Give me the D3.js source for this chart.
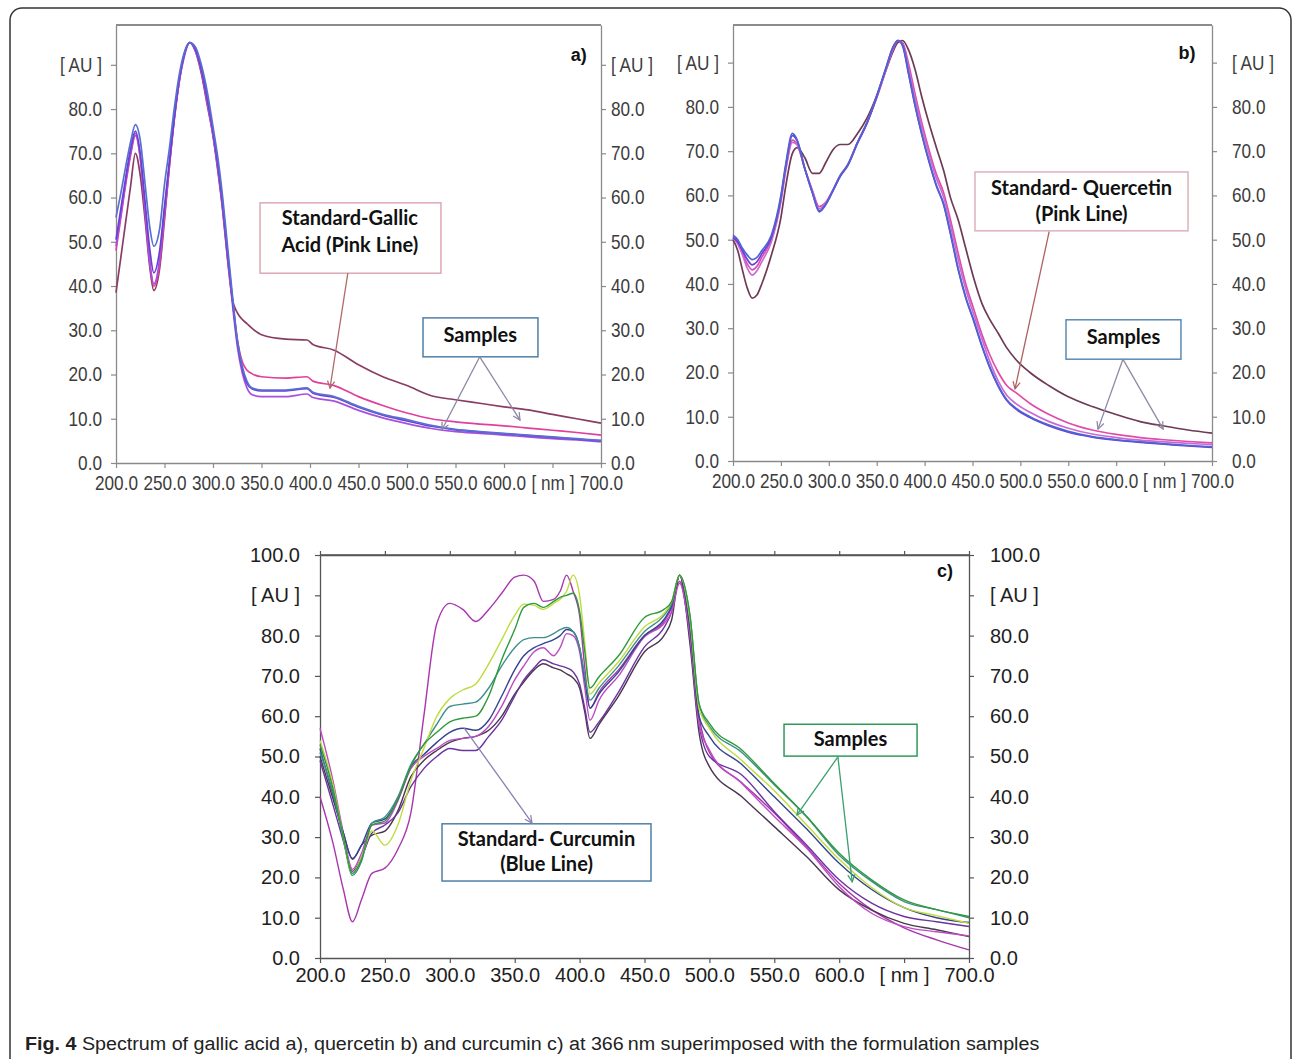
<!DOCTYPE html>
<html>
<head>
<meta charset="utf-8">
<script src="https://cdn.jsdelivr.net/npm/d3@7"></script>
<style>
  body { margin: 0; background: #fff; }
  svg { display: block; }
</style>
</head>
<body>
<svg id="fig" width="1293" height="1059"></svg>
<script>
// shared axis ticks
const xTicks = [200, 250, 300, 350, 400, 450, 500, 550, 600, 650, 700];
const xLabels = ['200.0', '250.0', '300.0', '350.0', '400.0', '450.0', '500.0', '550.0', '600.0', '[ nm ]', '700.0'];
const yTicksAB = [0, 10, 20, 30, 40, 50, 60, 70, 80, 90];
const yLabelsAB = ['0.0', '10.0', '20.0', '30.0', '40.0', '50.0', '60.0', '70.0', '80.0', '[ AU ]'];
const yTicksC = [0, 10, 20, 30, 40, 50, 60, 70, 80, 90, 100];
const yLabelsC = ['0.0', '10.0', '20.0', '30.0', '40.0', '50.0', '60.0', '70.0', '80.0', '[ AU ]', '100.0'];

// a) gallic acid
const nmA = [200,205,210,215,220,225,230,235,239,245,250,255,260,265,270,276,282,288,294,300,305,310,315,320,325,330,335,340,350,375,397,403,425,450,475,500,525,550,575,600,625,650,675,700];
const gallicMaroon = [38.5,46.5,54.5,62.5,70,65,55,44,39,44,55,67,78,86,92,95,93,88,81,74,66,57,46,37,34,32.5,31.5,30.5,29,28,27.8,26.8,25.5,22.2,19.5,17.5,15.2,14.3,13.5,12.7,12,11,10,9];
const gallicPink = [48,55.5,63,69.5,74,69,57,45,40,45,56,67,77.5,86,92,95,93.5,89,82,74.5,67,58,47,37,28,23,21,20.2,19.5,19.2,19.5,18.5,17.5,15,13,11.3,10,9.3,8.8,8.4,7.9,7.4,6.9,6.3];
const gallicViolet = [49,56,63.5,70,74.5,69,57,45,40.5,46,57,67.5,77.5,86,91.5,95,93,88.5,81.5,74,66.5,57.5,46.5,36,26.5,20.5,17,15.5,15,15,15.6,14.8,14,11.9,10.2,8.9,7.8,7.1,6.7,6.3,5.9,5.5,5.2,4.8];
const gallicPurple = [50.5,57.5,64.5,71,75,70,59,48,43,48,58,68,78,86.5,92,95,93.5,89,82.5,75,67.5,58.5,47.5,37,27.5,21.5,18,16.8,16.3,16.3,16.8,15.8,14.8,12.6,10.8,9.5,8.3,7.5,7,6.6,6.2,5.8,5.4,5];
const gallicBlue = [55.5,61,67,72.5,76.5,73,63,53,49,53,63,71,80,87.5,92.5,95,94,90,84,76,69,60,49,38,28,22,18.5,17,16.5,16.5,17,16,15,12.8,11,9.8,8.5,7.6,7.1,6.7,6.3,5.9,5.5,5.1];

// b) quercetin
const nmB = [200,205,210,215,220,225,230,240,250,255,262,267,275,283,290,297,305,312,320,330,340,350,360,367,372,377,383,390,397,405,412,420,427,435,443,451,460,468,477,486,495,510,530,550,575,600,625,650,675,700];
const quercMaroon = [50,47.5,43,39,36.8,37.5,40,46.5,55,62,69.5,70.8,68.5,65,65,67.5,70.5,71.5,71.5,74,77.5,82.5,88.5,92.5,94.5,95,93,88.5,82.3,76,71,65.5,59.5,54.5,48,41.5,35.5,32,28.8,25.5,23,20,17,14.5,12.3,10.5,8.9,7.9,7,6.3];
const quercPink = [50.5,49.5,47,44.5,43.2,44,46,50,59,66,72.5,71.5,66,61,57.5,58.5,61.5,64.5,67,72,76.5,82,88.5,93,95,94.5,90,83,76.5,70,65,60.5,54.5,47,40,34.5,28.5,24,20,17,15.5,13,10.5,8.6,7,6,5.3,4.8,4.4,4.1];
const quercLilac = [50.5,49,46.5,43.5,42,43,45,49.5,58.5,65.5,72,71.5,66,61,57,58.3,61.5,64.5,67,72,76.5,82.2,88.7,93.2,95,94.2,89,82,75.5,69,64,59.5,53.3,45.5,38.8,33.3,27.5,22.5,18,14.8,13,11,8.9,7.4,6.1,5.3,4.7,4.3,4,3.7];
const quercPurple = [50.5,49.5,47.5,45.5,44.3,45,46.8,50.5,59.5,66.5,73.5,72.3,66,60.5,56.5,58,61.3,64.3,66.8,71.8,76.3,82.3,89,93.5,95,93.8,87.7,80.3,73.8,67.3,62.3,57.8,51.3,43.3,36.8,31.8,25.8,21.1,16.8,13.6,11.8,9.8,7.9,6.5,5.4,4.7,4.2,3.8,3.4,3.1];
const quercBlue = [51,50,48,46.5,45.5,46,47.5,51,60,67,74,72.5,66,60.5,56.3,58,61.5,64.5,67,72,76.5,82.5,89,93.5,95,94,88,80.5,74,67.5,62.5,58,51.5,43.5,37,32,26,21.3,17,13.8,12,10,8.1,6.7,5.5,4.8,4.3,3.9,3.5,3.2];

// c) curcumin
const nmC = [200,210,218,225,232,240,250,260,270,280,290,300,310,320,330,340,350,357,365,372,380,385,390,395,400,404,408,415,430,450,465,471,477,485,492,500,525,550,575,600,625,650,675,700];
const curcMagenta = [40,28.5,17,9,14.5,21,22.3,27,36,60,83,88,86.5,83.5,86.5,90.5,94.5,95,93.5,88.5,89,91,95,91,85,72,62,66,71.5,80,83.5,87,93.5,80,60,51,43.5,36,27.5,18.5,12,7.5,4.5,2];
const curcDark = [50,39.5,31,24.5,28,30.5,31.5,36.5,45,49,51.5,53.5,54.5,55,56.5,60,65.5,68.5,71.5,73,72,71.5,70.5,69.5,67,61,54.5,58,65,76,80,84,95,78,56,47.5,40,32.6,25.1,16.9,11.9,8.6,7,5.3];
const curcPurple = [49,38,29,21.5,25,31,33,36,42.5,47,50,52,51.5,51.5,55,59,65,69,72,74,73,72.5,72,71,68,62,56,58.6,66,77.2,82,86,95,80,58,50,45.4,36.3,28,19.4,13.6,10.3,9,7.8];
const curcPink = [57,44,31,22,26,33,33.5,39,47,50,52,54,54.5,55,57.5,62.5,69,72.5,76,77,75,77,80.5,80,76,67,59,64,70,79.7,83,86,93,80,58,51.6,43.3,35.1,27.2,17.7,11.1,7.8,6.5,5.5];
const curcBlue = [52,40.5,31,24.7,28,33.5,34.5,39.5,47.5,50.5,53.5,56,57,56.5,59,65,71.5,75,77,78,79,80,81.5,81,77,69,62,65.5,71,80,84,87.5,95,82,60,55,48,40,32,23.5,17,12.5,10,8.8];
const curcTeal = [51,41,29.5,20.5,24,33.5,35,40,48,53,58,62.4,63,63.5,67,72.5,77,79,79.5,79.5,80.5,81.5,82,81,77,70,64,67,72.5,81,85,88,95,85,63,57.5,51,43,35,25.5,19,14,12,10];
const curcLime = [54,43,30,21,25,31.5,28,33,44,52,60,64.4,66.5,68,73,79,85,87.8,87.5,86.5,88,89,91,95,90,78,65.5,68.2,73.5,82.2,85.5,88.5,95,84,62,57,49,41.5,33,24.5,17.5,12.5,10.5,8.6];
const curcGreen = [53,42,30,21,24.5,33,34,39.5,47.5,53,56,58.6,59.5,60,65,74,81.5,87,88,87,88.5,89.5,90,90.5,86,76,67,69.8,75,84.5,86.5,88.5,95,85,63.2,58.2,51.6,43.3,35.1,26,19.4,14.4,12,10.3];

const svg = d3.select('#fig');
const defs = svg.append('defs');
const markers = {};
function arrowMarker(color) {
  if (markers[color]) return markers[color];
  const id = 'arr' + Object.keys(markers).length;
  defs.append('marker').attr('id', id).attr('viewBox', '0 0 10 10').attr('refX', 9).attr('refY', 5)
    .attr('markerWidth', 9).attr('markerHeight', 9).attr('markerUnits', 'userSpaceOnUse').attr('orient', 'auto')
    .append('path').attr('d', 'M1,1 L9,5 L1,9').attr('fill', 'none').attr('stroke', color).attr('stroke-width', 1.4);
  markers[color] = `url(#${id})`;
  return markers[color];
}

// outer figure frame
svg.append('rect').attr('x', 10).attr('y', 8).attr('width', 1281).attr('height', 1120).attr('rx', 12)
  .attr('fill', 'none').attr('stroke', '#333').attr('stroke-width', 1.5);

const sans = 'Liberation Sans, Arial, sans-serif';

function drawPanel(p) {
  const x = d3.scaleLinear().domain([200, 700]).range([p.left, p.right]);
  const y = d3.scaleLinear().domain([0, p.yMax]).range([p.bottom, p.top]);
  const g = svg.append('g');

  // squeeze the labels horizontally to mimic the narrow face of the original
  const styleAxis = sel => {
    sel.select('.domain').attr('stroke', p.axisColor).attr('stroke-width', 1.3);
    sel.selectAll('.tick line').attr('stroke', p.axisColor).attr('stroke-width', 1.2);
    sel.selectAll('text').attr('fill', p.textColor)
      .style('font-family', sans).style('font-size', p.fontSize + 'px')
      .each(function() {
        const t = d3.select(this);
        const x0 = +t.attr('x') || 0;
        t.attr('x', x0 / p.squeeze).attr('transform', `scale(${p.squeeze},1)`);
      });
  };

  g.append('line').attr('x1', p.left).attr('x2', p.right).attr('y1', p.top).attr('y2', p.top)
    .attr('stroke', p.topColor).attr('stroke-width', 1.5);
  if (p.topTicks) {
    g.append('g').attr('transform', `translate(0,${p.top})`)
      .call(d3.axisTop(x).tickValues(xTicks).tickFormat('').tickSize(4).tickSizeOuter(0))
      .call(styleAxis);
  }
  g.append('g').attr('transform', `translate(0,${p.bottom})`)
    .call(d3.axisBottom(x).tickValues(xTicks).tickFormat((d, i) => xLabels[i]).tickSize(5).tickSizeOuter(0).tickPadding(p.xPad))
    .call(styleAxis);
  g.append('g').attr('transform', `translate(${p.left},0)`)
    .call(d3.axisLeft(y).tickValues(p.yTicks).tickFormat((d, i) => p.yLabels[i]).tickSize(5).tickSizeOuter(0).tickPadding(p.leftPad))
    .call(styleAxis);
  g.append('g').attr('transform', `translate(${p.right},0)`)
    .call(d3.axisRight(y).tickValues(p.yTicks).tickFormat((d, i) => p.yLabels[i]).tickSize(5).tickSizeOuter(0).tickPadding(p.rightPad))
    .call(styleAxis);

  const line = d3.line().x(d => x(d[0])).y(d => y(d[1])).curve(d3.curveMonotoneX);
  p.series.forEach(s => {
    g.append('path').datum(p.nm.map((n, i) => [n, s.values[i]]))
      .attr('d', line).attr('fill', 'none').attr('stroke', s.color)
      .attr('stroke-width', p.lineWidth).attr('stroke-linejoin', 'round');
  });

  g.append('text').attr('x', x(p.tag.nm)).attr('y', y(p.tag.v))
    .attr('text-anchor', 'middle').attr('dominant-baseline', 'middle')
    .style('font-family', sans).style('font-weight', 'bold').style('font-size', '18px')
    .attr('fill', '#111').text(p.tag.text);

  p.boxes.forEach(b => {
    g.append('rect').attr('x', x(b.nm0)).attr('y', y(b.v1))
      .attr('width', x(b.nm1) - x(b.nm0)).attr('height', y(b.v0) - y(b.v1))
      .attr('fill', '#fff').attr('stroke', b.stroke).attr('stroke-width', 1.5);
    b.lines.forEach(t => {
      g.append('text').attr('x', x(t.nm)).attr('y', y(t.v)).attr('text-anchor', 'middle').attr('dominant-baseline', 'middle')
        .style('font-family', 'Lato, sans-serif').style('font-weight', 'bold').style('font-size', '20px')
        .attr('fill', '#111').text(t.text);
    });
  });

  p.arrows.forEach(a => {
    g.append('line').attr('x1', x(a.from[0])).attr('y1', y(a.from[1])).attr('x2', x(a.to[0])).attr('y2', y(a.to[1]))
      .attr('stroke', a.color).attr('stroke-width', 1.3).attr('marker-end', arrowMarker(a.color));
  });
}

drawPanel({
  left: 116, right: 601, top: 25, bottom: 463, yMax: 99,
  yTicks: yTicksAB, yLabels: yLabelsAB, topTicks: false,
  axisColor: '#8a8a8a', topColor: '#666', textColor: '#3c3c3c', fontSize: 20, squeeze: 0.86,
  xPad: 8, leftPad: 9, rightPad: 5, lineWidth: 1.7,
  nm: nmA,
  series: [
    {values: gallicMaroon, color: '#8a3d64'},
    {values: gallicPink, color: '#e0409c'},
    {values: gallicViolet, color: '#a650e0'},
    {values: gallicPurple, color: '#6a3ed6'},
    {values: gallicBlue, color: '#5870d0'}
  ],
  tag: {nm: 677, v: 92, text: 'a)'},
  boxes: [
    {nm0: 348.5, nm1: 535, v0: 42.9, v1: 58.8, stroke: '#dcaab4',
     lines: [{nm: 441, v: 54.9, text: 'Standard-Gallic'}, {nm: 441, v: 48.9, text: 'Acid (Pink Line)'}]},
    {nm0: 516.5, nm1: 635, v0: 24, v1: 32.8, stroke: '#4f7fa8',
     lines: [{nm: 575.5, v: 28.5, text: 'Samples'}]}
  ],
  arrows: [
    {from: [439, 42.9], to: [420.6, 16.9], color: '#b06a6a'},
    {from: [575, 24], to: [536, 7.5], color: '#8d86a6'},
    {from: [575, 24], to: [616.5, 9.7], color: '#8d86a6'}
  ]
});

drawPanel({
  left: 733, right: 1212, top: 25, bottom: 461, yMax: 98.5,
  yTicks: yTicksAB, yLabels: yLabelsAB, topTicks: false,
  axisColor: '#8a8a8a', topColor: '#666', textColor: '#3c3c3c', fontSize: 20, squeeze: 0.86,
  xPad: 8, leftPad: 9, rightPad: 15, lineWidth: 1.7,
  nm: nmB,
  series: [
    {values: quercMaroon, color: '#6e3a56'},
    {values: quercPink, color: '#e04ca8'},
    {values: quercLilac, color: '#c86ad6'},
    {values: quercPurple, color: '#6a3edc'},
    {values: quercBlue, color: '#4f64cf'}
  ],
  tag: {nm: 674, v: 91.8, text: 'b)'},
  boxes: [
    {nm0: 452.6, nm1: 675, v0: 52, v1: 65.3, stroke: '#dcb2ba',
     lines: [{nm: 563.8, v: 61.2, text: 'Standard- Quercetin'}, {nm: 563.8, v: 55.4, text: '(Pink Line)'}]},
    {nm0: 547.6, nm1: 667.6, v0: 23, v1: 31.9, stroke: '#5a8ab6',
     lines: [{nm: 607.6, v: 27.6, text: 'Samples'}]}
  ],
  arrows: [
    {from: [530, 51.8], to: [494.4, 16.3], color: '#b06060'},
    {from: [607, 23], to: [581, 7.2], color: '#9088a8'},
    {from: [607, 23], to: [649, 7.2], color: '#9088a8'}
  ]
});

drawPanel({
  left: 320, right: 969, top: 555, bottom: 958, yMax: 100,
  yTicks: yTicksC, yLabels: yLabelsC, topTicks: true,
  axisColor: '#555', topColor: '#555', textColor: '#1e1e1e', fontSize: 20, squeeze: 1,
  xPad: 5, leftPad: 15, rightPad: 16, lineWidth: 1.4,
  nm: nmC,
  series: [
    {values: curcMagenta, color: '#a936ae'},
    {values: curcDark, color: '#4b3650'},
    {values: curcPurple, color: '#6a34a0'},
    {values: curcPink, color: '#bd4cc4'},
    {values: curcBlue, color: '#34448e'},
    {values: curcTeal, color: '#3f8f8a'},
    {values: curcLime, color: '#bedc3c'},
    {values: curcGreen, color: '#2f9a3c'}
  ],
  tag: {nm: 681.5, v: 95.8, text: 'c)'},
  boxes: [
    {nm0: 294, nm1: 455, v0: 19.1, v1: 33.3, stroke: '#4f7fa8',
     lines: [{nm: 374.5, v: 29, text: 'Standard- Curcumin'}, {nm: 374.5, v: 22.8, text: '(Blue Line)'}]},
    {nm0: 557.5, nm1: 660, v0: 50.1, v1: 58, stroke: '#2e9a5a',
     lines: [{nm: 608.7, v: 53.8, text: 'Samples'}]}
  ],
  arrows: [
    {from: [311, 57.1], to: [363.3, 33.5], color: '#8a80b0'},
    {from: [599, 49.9], to: [567.5, 35.5], color: '#3aa070'},
    {from: [599, 49.9], to: [610, 18.9], color: '#3aa070'}
  ]
});

// caption, squeezed to the width it has in the original
const cap = svg.append('text').attr('x', 0).attr('y', 0).attr('fill', '#222')
  .style('font-family', sans).style('font-size', '19px');
cap.append('tspan').style('font-weight', 'bold').text('Fig. 4');
cap.append('tspan').text(' Spectrum of gallic acid a), quercetin b) and curcumin c) at 366\u2009nm superimposed with the formulation samples');
const capW = cap.node().getComputedTextLength();
cap.attr('transform', `translate(25,1050) scale(${1015 / capW},1)`);
</script>
</body>
</html>
